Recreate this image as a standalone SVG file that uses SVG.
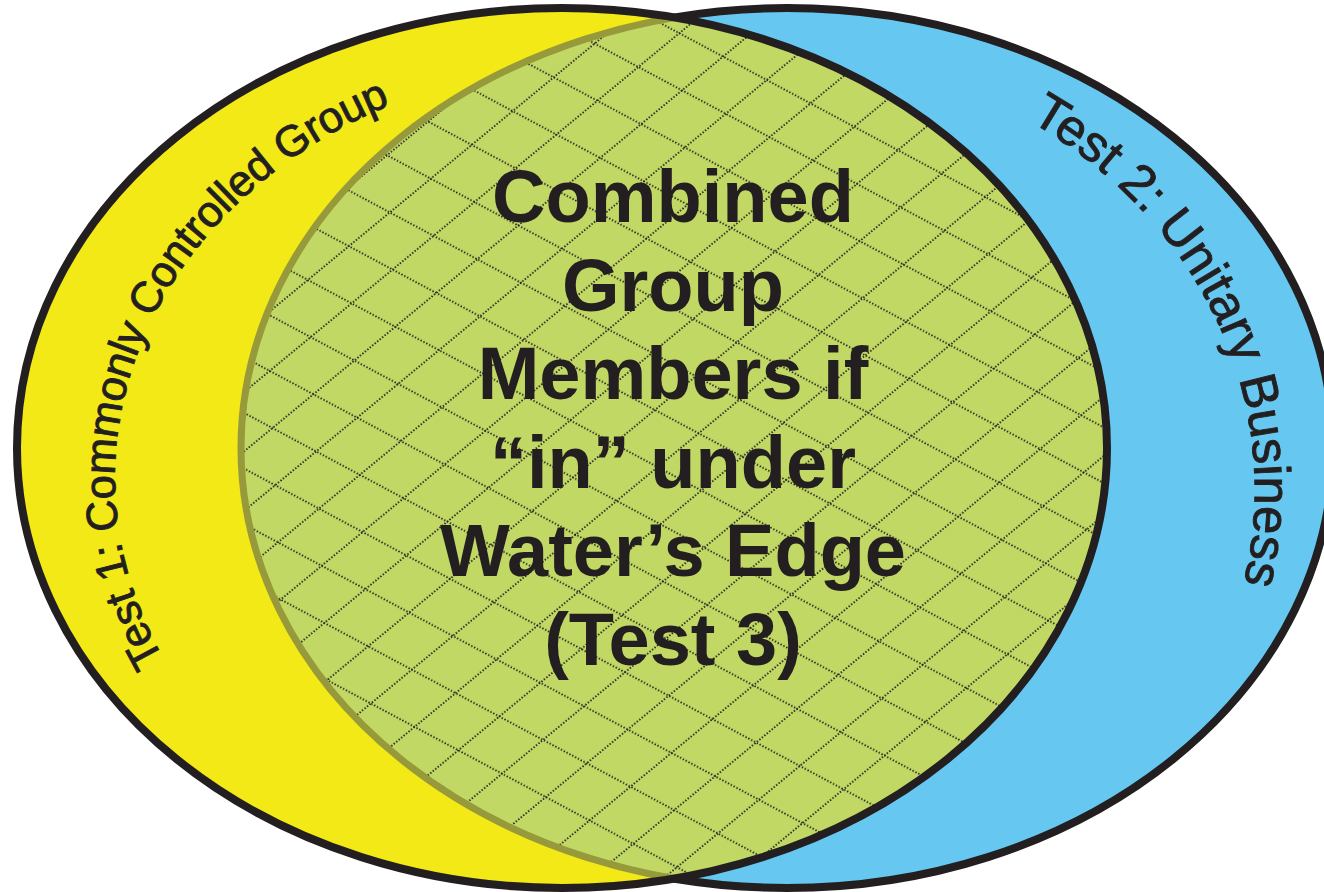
<svg xmlns="http://www.w3.org/2000/svg" xmlns:xlink="http://www.w3.org/1999/xlink" width="1324" height="892" viewBox="0 0 1324 892">
<style>
.black{stroke:#231f20;stroke-width:8;fill:none}
.olive{stroke:#979a3b;stroke-width:7;fill:none}
.main{font-family:"Liberation Sans",Arial,sans-serif;font-weight:bold;font-size:74px;fill:#231f20;text-anchor:middle}
.arc{font-family:"Liberation Sans",Arial,sans-serif;fill:#231f20;stroke:#231f20;stroke-width:0.9;text-anchor:middle}
</style>
<defs>
<clipPath id="clipBlue"><ellipse cx="787" cy="448" rx="546" ry="440"/></clipPath>
<clipPath id="clipYellow"><ellipse cx="562" cy="448" rx="545" ry="440"/></clipPath>
<clipPath id="outsideYellow"><path clip-rule="evenodd" d="M-10 -10H1340V900H-10Z M17 448A545 440 0 1 0 1107 448A545 440 0 1 0 17 448Z"/></clipPath>
<pattern id="hatchA" patternUnits="userSpaceOnUse" width="3.2" height="49.1" patternTransform="rotate(28.15)">
<rect x="0" y="2.6" width="1.6" height="1.6" fill="#231f20"/>
</pattern>
<pattern id="hatchB" patternUnits="userSpaceOnUse" width="3.2" height="45.86" patternTransform="rotate(-39.5)">
<rect x="0" y="44.2" width="1.6" height="1.6" fill="#231f20"/>
</pattern>
<path id="arcLeft" d="M605 893A490 415 0 0 1 605 63A490 415 0 0 1 605 893"/>
<path id="arcRight" d="M760 50A495 440 0 0 1 760 930A495 440 0 0 1 760 50"/>
</defs>

<g id="set-unitary-business">
<ellipse cx="787" cy="448" rx="546" ry="440" fill="#66c8f1"/>
</g>
<g id="set-commonly-controlled">
<ellipse cx="562" cy="448" rx="545" ry="440" fill="#f2e916"/>
</g>
<g id="combined-group" clip-path="url(#clipBlue)">
<ellipse cx="562" cy="448" rx="545" ry="440" fill="#c1d964"/>
<g clip-path="url(#clipYellow)">
<rect x="0" y="0" width="1324" height="892" fill="url(#hatchA)"/>
<rect x="0" y="0" width="1324" height="892" fill="url(#hatchB)"/>
</g>
</g>

<g id="outlines">
<g clip-path="url(#clipYellow)"><ellipse class="olive" cx="787" cy="448" rx="546" ry="440"/></g>
<ellipse class="black" cx="562" cy="448" rx="545" ry="440"/>
<g clip-path="url(#outsideYellow)"><ellipse class="black" cx="787" cy="448" rx="546" ry="440"/></g>
</g>

<g id="label-test1">
<text class="arc" font-size="43.5" letter-spacing="-0.3"><textPath xlink:href="#arcLeft" href="#arcLeft" startOffset="30.3%">Test 1: Commonly Controlled Group</textPath></text>
</g>
<g id="label-test2">
<text class="arc" font-size="51"><textPath xlink:href="#arcRight" href="#arcRight" startOffset="18.9%">Test 2: Unitary Business</textPath></text>
</g>
<g id="label-combined">
<text class="main" x="673" y="222">Combined</text>
<text class="main" x="673" y="310.6">Group</text>
<text class="main" x="673" y="399.2">Members if</text>
<text class="main" x="673" y="487.8">“in” under</text>
<text class="main" x="673" y="576.4">Water’s Edge</text>
<text class="main" x="673" y="665">(Test 3)</text>
</g>
</svg>
